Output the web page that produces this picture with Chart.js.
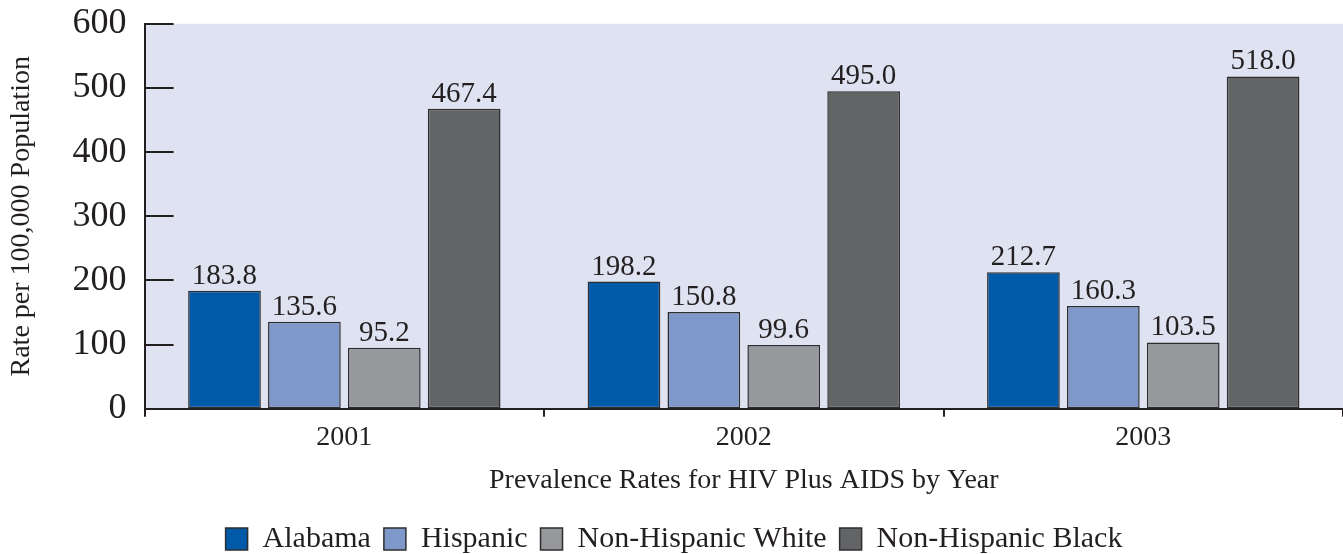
<!DOCTYPE html>
<html>
<head>
<meta charset="utf-8">
<script src="https://cdn.jsdelivr.net/npm/chart.js@4/dist/chart.umd.min.js"></script>
<style>
  html, body { margin: 0; padding: 0; background: #fff; }
  #wrap { width: 1343px; height: 554px; }
</style>
</head>
<body>
<div id="wrap"><canvas id="prevChart"></canvas></div>
<script>
// 数据
const years = ['2001', '2002', '2003'];
const alabama = [183.8, 198.2, 212.7];
const hispanic = [135.6, 150.8, 160.3];
const nonHispanicWhite = [95.2, 99.6, 103.5];
const nonHispanicBlack = [467.4, 495.0, 518.0];
const yTicks = [0, 100, 200, 300, 400, 500, 600];

const FONT = "'Liberation Serif', 'DejaVu Serif', serif";
const INK = '#231f20';

// 绘图区背景
const plotBackground = {
    id: 'plotBackground',
    beforeDraw(chart) {
        const { ctx, chartArea } = chart;
        ctx.save();
        ctx.fillStyle = '#dfe2f1';
        ctx.fillRect(chartArea.left, chartArea.top, chartArea.right - chartArea.left, chartArea.bottom - chartArea.top);
        ctx.restore();
    }
};

// 图例整体下移一点
const legendShift = {
    id: 'legendShift',
    afterLayout(chart) {
        if (chart.legend) {
            chart.legend.top += 10;
            chart.legend.bottom += 10;
        }
    }
};

// y轴刻度线画在绘图区内侧
const innerTicks = {
    id: 'innerTicks',
    afterDraw(chart) {
        const { ctx } = chart;
        const y = chart.scales.y;
        ctx.save();
        ctx.strokeStyle = INK;
        ctx.lineWidth = 2;
        y.ticks.forEach((t, i) => {
            const py = Math.round(y.getPixelForTick(i));
            ctx.beginPath();
            ctx.moveTo(y.right, py);
            ctx.lineTo(y.right + 29, py);
            ctx.stroke();
        });
        ctx.restore();
    }
};

// 柱顶数值标签
const valueLabels = {
    id: 'valueLabels',
    afterDatasetsDraw(chart) {
        const { ctx } = chart;
        ctx.save();
        ctx.font = `29px ${FONT}`;
        ctx.fillStyle = INK;
        ctx.textAlign = 'center';
        ctx.textBaseline = 'alphabetic';
        chart.data.datasets.forEach((ds, di) => {
            chart.getDatasetMeta(di).data.forEach((bar, i) => {
                ctx.fillText(ds.data[i].toFixed(1), bar.x, bar.y - 7);
            });
        });
        ctx.restore();
    }
};

function makeSet(label, data, color) {
    return {
        label: label,
        data: data,
        backgroundColor: color,
        borderColor: '#2e2e30',
        borderWidth: 1.5,
        borderSkipped: false,
        categoryPercentage: 0.8,
        barPercentage: 0.91
    };
}

new Chart(document.getElementById('prevChart'), {
    type: 'bar',
    data: {
        labels: years,
        datasets: [
            makeSet('Alabama', alabama, '#005aa8'),
            makeSet('Hispanic', hispanic, '#7d98c9'),
            makeSet('Non-Hispanic White', nonHispanicWhite, '#97989b'),
            makeSet('Non-Hispanic Black', nonHispanicBlack, '#636466')
        ]
    },
    options: {
        responsive: true,
        maintainAspectRatio: false,
        animation: false,
        layout: { padding: { top: 0, right: 0, left: 5, bottom: 0 } },
        plugins: {
            legend: {
                display: true,
                position: 'bottom',
                labels: {
                    font: { family: FONT, size: 30 },
                    color: INK,
                    boxWidth: 22,
                    boxHeight: 22,
                    padding: 13,
                    useBorderRadius: false
                }
            },
            tooltip: { enabled: false }
        },
        scales: {
            x: {
                grid: {
                    offset: true,
                    drawOnChartArea: false,
                    drawTicks: true,
                    tickLength: 8,
                    color: INK,
                    lineWidth: 2
                },
                border: { display: true, color: INK, width: 2 },
                ticks: {
                    font: { family: FONT, size: 28 },
                    color: INK,
                    padding: 4
                },
                title: {
                    display: true,
                    text: 'Prevalence Rates for HIV Plus AIDS by Year',
                    font: { family: FONT, size: 28 },
                    color: INK,
                    padding: { top: 5, bottom: 4 }
                }
            },
            y: {
                min: 0,
                max: 600,
                afterBuildTicks(scale) {
                    scale.ticks = yTicks.map(v => ({ value: v }));
                },
                grid: { drawOnChartArea: false, drawTicks: false },
                border: { display: true, color: INK, width: 2 },
                ticks: {
                    font: { family: FONT, size: 36, lineHeight: 0.32 },
                    color: INK,
                    padding: 18
                },
                title: {
                    display: true,
                    text: 'Rate per 100,000 Population',
                    font: { family: FONT, size: 28 },
                    color: INK,
                    padding: { top: 0, bottom: 16 }
                }
            }
        }
    },
    plugins: [plotBackground, legendShift, innerTicks, valueLabels]
});
</script>
</body>
</html>
